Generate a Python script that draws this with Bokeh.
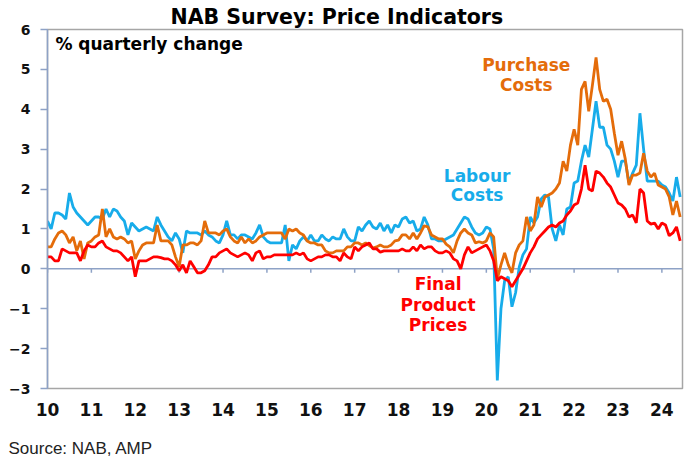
import numpy as np
from bokeh.plotting import figure
from bokeh.models import Range1d, FixedTicker, Span, Label, ColumnDataSource, Title
from bokeh.embed import file_html
from bokeh.resources import INLINE

# ---------------- data (monthly, Jan 2010 -> Jun 2024) ----------------
start_year = 2010
labour_costs = [
    1.2, 1.0, 1.4, 1.4, 1.35, 1.25, 1.9, 1.55, 1.4, 1.3,
    1.2, 1.1, 1.2, 1.3, 1.3, 1.25, 1.5, 1.3, 1.5, 1.45,
    1.3, 1.2, 0.85, 1.15, 1.05, 0.95, 1.0, 1.05, 1.0, 0.95,
    1.3, 1.1, 0.95, 0.8, 0.7, 0.9, 0.75, 0.4, 0.95, 0.9,
    0.9, 0.9, 0.85, 0.95, 0.85, 0.8, 0.7, 0.65, 0.85, 1.2,
    0.85, 0.85, 0.75, 0.85, 0.85, 0.8, 0.75, 0.9, 1.1, 0.8,
    0.7, 0.65, 0.65, 0.65, 0.65, 1.1, 0.2, 0.6, 0.5, 0.7,
    0.8, 0.7, 0.85, 0.7, 0.7, 0.85, 0.75, 0.7, 0.8, 0.75,
    0.75, 1.0, 0.8, 0.7, 0.7, 1.05, 0.95, 1.1, 1.2, 1.05,
    1.0, 1.15, 0.95, 1.1, 0.9, 1.1, 1.05, 1.25, 1.3, 1.15,
    1.2, 0.95, 1.0, 1.3, 1.1, 0.75, 0.75, 0.7, 0.7, 0.75,
    0.8, 0.85, 1.0, 1.15, 1.3, 1.25, 1.05, 0.9, 0.85, 0.9,
    1.05, 1.0, 0.5, -2.8, -1.0, -0.3, -0.2, -0.95, -0.6, 0.05,
    0.35, 0.5, 1.3, 1.15, 1.3, 1.75, 1.85, 1.8, 1.0, 0.7,
    1.1, 0.85, 1.5, 1.55, 2.15, 2.2, 2.7, 3.1, 2.8, 3.5,
    4.2, 3.55, 3.55, 3.1, 3.0, 2.7, 2.3, 2.7, 2.7, 2.15,
    2.4, 2.6, 3.9, 3.0, 2.2, 2.2, 2.2, 2.2, 2.1, 2.05,
    1.9, 1.7, 2.3, 1.8,
]
purchase_costs = [
    0.55, 0.55, 0.75, 0.9, 0.95, 0.85, 0.65, 0.8, 0.45, 0.7,
    0.25, 0.65, 0.7, 0.8, 0.85, 1.5, 0.8, 1.0, 0.8, 0.75,
    0.8, 0.75, 0.65, 0.7, 0.25, 0.45, 0.6, 0.65, 0.65, 0.65,
    1.1, 0.7, 0.7, 0.7, 0.6, 0.3, 0.05, 0.6, 0.6, 0.65,
    0.65, 0.6, 0.7, 1.2, 0.9, 0.9, 0.9, 0.85, 0.95, 1.0,
    0.8, 0.7, 0.65, 0.8, 0.65, 0.75, 0.65, 0.7, 0.8, 0.85,
    0.9, 0.9, 0.9, 0.9, 0.9, 0.75, 1.0, 0.95, 1.0, 0.9,
    0.85, 0.7, 0.65, 0.65, 0.6, 0.6, 0.45, 0.4, 0.4, 0.45,
    0.45, 0.45, 0.55, 0.55, 0.65, 0.65, 0.6, 0.65, 0.58, 0.52,
    0.55, 0.6, 0.55, 0.55, 0.6, 0.7, 0.72, 0.85, 0.85, 0.75,
    0.9, 0.75, 0.9, 1.08, 1.05, 0.85, 0.8, 0.75, 0.75, 0.62,
    0.55, 0.4, 0.7, 0.9, 1.0, 0.9, 0.85, 0.65, 0.68, 0.65,
    0.7, 0.9, 0.8, -0.25, 0.1, 0.4, 0.1, -0.1, 0.4, 0.6,
    0.7, 1.3, 0.95, 1.1, 1.8, 1.55, 1.8, 1.85, 1.9, 2.0,
    2.15, 2.7, 2.45, 3.1, 3.5, 3.1, 4.5, 4.7, 3.95, 4.6,
    5.3, 4.5, 4.2, 4.25, 4.0, 3.4, 2.85, 3.2, 2.75, 2.1,
    2.35, 2.35, 2.4, 2.9, 2.45, 2.3, 2.4, 2.1, 2.05, 2.0,
    1.8, 1.35, 1.7, 1.3,
]
final_prices = [
    0.3, 0.3, 0.2, 0.2, 0.5, 0.45, 0.4, 0.4, 0.4, 0.2,
    0.45, 0.6, 0.55, 0.55, 0.65, 0.7, 0.55, 0.5, 0.45, 0.45,
    0.4, 0.3, 0.2, 0.3, -0.2, 0.2, 0.2, 0.2, 0.25, 0.3,
    0.3, 0.28, 0.25, 0.25, 0.2, 0.1, -0.05, 0.1, -0.1, 0.2,
    0.05, -0.1, -0.1, -0.05, 0.1, 0.3, 0.3, 0.4, 0.45, 0.5,
    0.4, 0.35, 0.3, 0.35, 0.4, 0.35, 0.2, 0.4, 0.45, 0.25,
    0.3, 0.3, 0.35, 0.35, 0.35, 0.35, 0.35, 0.35, 0.4, 0.35,
    0.4, 0.25, 0.2, 0.25, 0.3, 0.3, 0.35, 0.35, 0.3, 0.3,
    0.2, 0.4, 0.3, 0.25, 0.55, 0.45, 0.55, 0.6, 0.65, 0.5,
    0.5, 0.42, 0.45, 0.45, 0.45, 0.45, 0.45, 0.5, 0.45, 0.45,
    0.55, 0.45, 0.6, 0.5, 0.55, 0.55, 0.45, 0.4, 0.4, 0.45,
    0.4, 0.25, 0.2, 0.0, 0.35, 0.55, 0.4, 0.45, 0.5, 0.55,
    0.6, 0.45, 0.2, -0.3, -0.2, -0.25, -0.3, -0.45, -0.3, -0.15,
    0.0, 0.2, 0.4, 0.55, 0.75, 0.85, 0.95, 1.05, 1.1, 1.05,
    1.15, 1.2, 1.35, 1.45, 1.6, 1.65, 2.0, 2.6, 2.0, 1.95,
    2.45, 2.4, 2.3, 2.15, 2.05, 1.85, 1.65, 1.6, 1.5, 1.3,
    1.35, 1.15, 2.0, 1.9, 1.2, 1.12, 1.15, 1.0, 1.15, 1.1,
    0.83, 0.9, 1.05, 0.7,
]
year_ticks = list(range(2010, 2025))
year_labels = [str(y)[2:] for y in year_ticks]
y_ticks = [-3, -2, -1, 0, 1, 2, 3, 4, 5, 6]

n = len(labour_costs)
months = start_year + np.arange(n) / 12.0
src = ColumnDataSource(dict(x=months, labour=labour_costs,
                            purchase=purchase_costs, final=final_prices))

BLUE = "#17ACEA"
ORANGE = "#E46C0A"
RED = "#FF0000"
AXIS = "#8EA2C6"
BOLD = "DejaVu Sans"

p = figure(width=700, height=463, output_backend="svg", toolbar_location=None,
           x_range=Range1d(2010, 2024.47), y_range=Range1d(-3, 6),
           min_border_left=47, min_border_right=18, min_border_top=29,
           min_border_bottom=75)
p.background_fill_color = "white"
p.border_fill_color = "white"
p.outline_line_color = "#A6A6A6"
p.outline_line_width = 1.5
p.xgrid.visible = False
p.ygrid.visible = False

# title in the top panel
p.title.text = "NAB Survey: Price Indicators"
p.title.text_font = BOLD
p.title.text_font_style = "bold"
p.title.text_font_size = "20.5px"
p.title.text_color = "#000000"
p.title.align = "left"
p.title.offset = 123
p.title.standoff = 1

# y axis
p.yaxis.ticker = FixedTicker(ticks=y_ticks)
p.yaxis.axis_line_color = AXIS
p.yaxis.axis_line_width = 1.5
p.yaxis.major_tick_line_color = AXIS
p.yaxis.major_tick_line_width = 1.5
p.yaxis.major_tick_out = 7
p.yaxis.major_tick_in = 0
p.yaxis.minor_tick_line_color = None
p.yaxis.major_label_standoff = 10
p.yaxis.major_label_text_font = BOLD
p.yaxis.major_label_text_font_style = "bold"
p.yaxis.major_label_text_font_size = "14px"
p.yaxis.major_label_text_color = "#111111"

# x axis (labels only, ticks drawn on the zero line)
p.xaxis.ticker = FixedTicker(ticks=year_ticks)
p.xaxis.major_label_overrides = {t: l for t, l in zip(year_ticks, year_labels)}
p.xaxis.axis_line_color = None
p.xaxis.major_tick_line_color = None
p.xaxis.minor_tick_line_color = None
p.xaxis.major_label_standoff = 8
p.xaxis.major_label_text_font = BOLD
p.xaxis.major_label_text_font_style = "bold"
p.xaxis.major_label_text_font_size = "17px"
p.xaxis.major_label_text_color = "#111111"

# spacer, then the source note in the bottom panel
p.add_layout(Title(text=" ", text_font_size="14px", standoff=0), "below")
p.add_layout(Title(text="Source: NAB, AMP", align="left", offset=-39,
                   standoff=0, text_font="Liberation Sans",
                   text_font_style="normal", text_font_size="17px",
                   text_color="#222222"), "below")

# zero line with year tick marks
p.add_layout(Span(location=0, dimension="width", line_color=AXIS,
                  line_width=1.5, level="underlay"))
p.segment(x0=year_ticks, y0=[0] * len(year_ticks), x1=year_ticks,
          y1=[-0.1] * len(year_ticks), line_color=AXIS, line_width=1.5,
          level="underlay")

p.line("x", "labour", source=src, line_color=BLUE, line_width=2.8)
p.line("x", "purchase", source=src, line_color=ORANGE, line_width=2.8)
p.line("x", "final", source=src, line_color=RED, line_width=2.8)

def add_label(x, y, text, color="#000000", size="17px", align="left"):
    p.add_layout(Label(x=x, y=y, text=text, text_color=color,
                       text_font=BOLD, text_font_style="bold",
                       text_font_size=size, text_align=align,
                       text_baseline="middle"))

add_label(2010.18, 5.64, "% quarterly change")

# series labels
add_label(2020.91, 5.11, "Purchase", color=ORANGE, align="center")
add_label(2020.91, 4.61, "Costs", color=ORANGE, align="center")
add_label(2019.79, 2.33, "Labour", color=BLUE, align="center")
add_label(2019.79, 1.85, "Costs", color=BLUE, align="center")
add_label(2018.90, -0.38, "Final", color=RED, align="center")
add_label(2018.90, -0.90, "Product", color=RED, align="center")
add_label(2018.90, -1.40, "Prices", color=RED, align="center")

open("out.html", "w").write(file_html(p, INLINE))
